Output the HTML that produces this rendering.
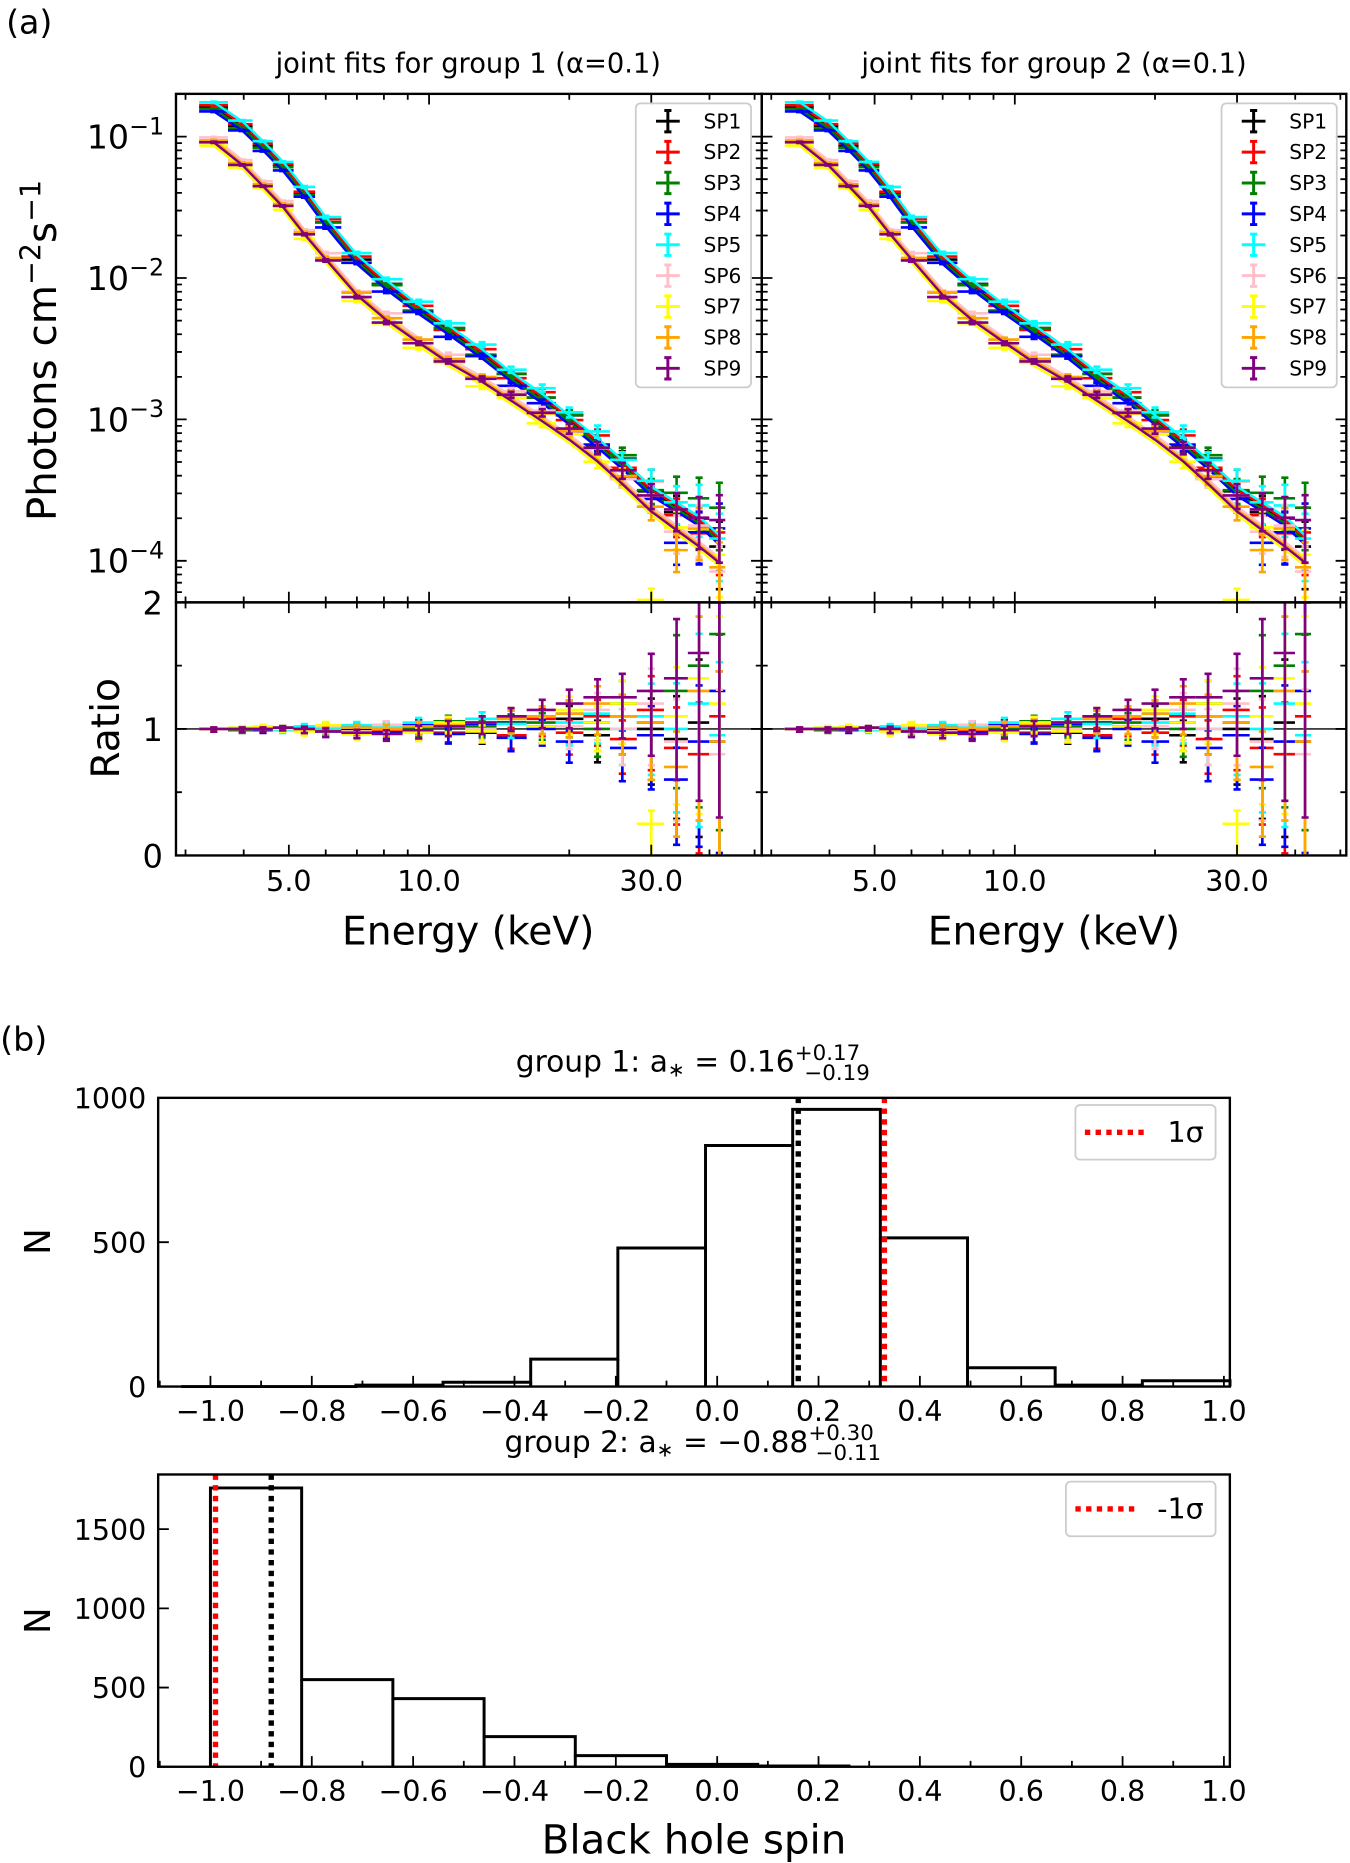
<!DOCTYPE html>
<html><head><meta charset="utf-8"><style>
html,body{margin:0;padding:0;background:#fff;}
svg{display:block;font-family:"DejaVu Sans","Liberation Sans",sans-serif;}
</style></head><body>
<svg id="fig" width="1350" height="1863" viewBox="0 0 1136 1568" xmlns="http://www.w3.org/2000/svg">
<defs>
<clipPath id="clipL1"><rect x="148" y="79" width="493" height="428"/></clipPath>
<clipPath id="clipL2"><rect x="148" y="507" width="493" height="213"/></clipPath>
<clipPath id="clipR1"><rect x="641" y="79" width="492" height="428"/></clipPath>
<clipPath id="clipR2"><rect x="641" y="507" width="492" height="213"/></clipPath>
</defs>
<text x="5" y="28" font-size="28">(a)</text>
<text x="0" y="884" font-size="28">(b)</text>
<text x="394" y="61" font-size="23" text-anchor="middle">joint fits for group 1 (α=0.1)</text>
<text x="887" y="61" font-size="23" text-anchor="middle">joint fits for group 2 (α=0.1)</text>
<text transform="translate(47,295) rotate(-90)" font-size="34" text-anchor="middle">Photons cm<tspan dy="-13" font-size="24">−2</tspan><tspan dy="13">s</tspan><tspan dy="-13" font-size="24">−1</tspan></text>
<text transform="translate(100,613) rotate(-90)" font-size="33" text-anchor="middle">Ratio</text>
<text x="394" y="795" font-size="33" text-anchor="middle">Energy (keV)</text>
<text x="887" y="795" font-size="33" text-anchor="middle">Energy (keV)</text>
<text x="583" y="902" font-size="25" text-anchor="middle">group 1: a<tspan font-size="17" dy="4">∗</tspan><tspan dy="-4"> = 0.16</tspan><tspan font-size="18" dy="-10">+0.17</tspan><tspan font-size="18" dx="-47" dy="17">−0.19</tspan></text>
<text x="583" y="1222" font-size="25" text-anchor="middle">group 2: a<tspan font-size="17" dy="4">∗</tspan><tspan dy="-4"> = −0.88</tspan><tspan font-size="18" dy="-10">+0.30</tspan><tspan font-size="18" dx="-49" dy="17">−0.11</tspan></text>
<text transform="translate(42,1045) rotate(-90)" font-size="30" text-anchor="middle">N</text>
<text transform="translate(42,1364) rotate(-90)" font-size="30" text-anchor="middle">N</text>
<text x="584" y="1560" font-size="34" text-anchor="middle">Black hole spin</text>
</svg>
<script>
// ---------- spectral data ----------
const energies = [3.45,3.97,4.4,4.85,5.4,6.0,7.0,8.1,9.5,11,13,15,17.5,20,23,26,30,34,38,42];
const brightModel = [0.162,0.119,0.086,0.062,0.040,0.025,0.0135,0.0089,0.0060,0.0043,0.0029,0.0020,0.0014,0.00099,0.00068,0.00048,0.00031,0.00024,0.00019,0.00014];
const faintModel = [0.094,0.065,0.046,0.033,0.021,0.014,0.0078,0.0052,0.0036,0.0026,0.0019,0.0014,0.00100,0.00074,0.00052,0.00036,0.00023,0.00017,0.00013,0.00010];
const seriesNames = ['SP1','SP2','SP3','SP4','SP5','SP6','SP7','SP8','SP9'];
const seriesColors = ['#000000','#ff0000','#008000','#0000ff','#00ffff','#ffc0cb','#ffff00','#ffa500','#800080'];
const seriesGroup = ['b','b','b','b','b','f','f','f','f'];
const seriesScale = [1.0,1.03,0.97,0.93,1.08,1.05,0.92,1.0,0.97];
const relErr = [0.01,0.01,0.01,0.01,0.015,0.02,0.02,0.025,0.03,0.035,0.04,0.05,0.06,0.08,0.1,0.13,0.2,0.3,0.4,0.5];
const ratios = [
 [1,1,1,1.01,1,0.99,1,1.02,0.98,1.03,0.97,1.05,1.02,1.08,0.95,1.1,1.0,0.92,1.05,0.9],
 [1,1,1.01,1,0.99,1.01,1.02,0.98,1.03,0.97,1.05,0.95,1.08,0.97,1.1,0.92,1.15,0.85,0.8,1.1],
 [1,0.99,1,1.01,1,1.02,0.98,1.03,1.01,1.06,1.02,1.08,1.05,1.12,1.0,1.2,1.05,1.3,1.5,1.75],
 [1,1,0.99,1,1.01,0.98,1.02,0.97,1.03,0.96,1.04,0.93,1.0,0.9,1.05,0.85,0.95,0.6,0.9,1.3],
 [1,1.01,1,0.99,1.02,1,1.03,1.02,1.05,1.03,1.08,1.04,1.1,1.05,1.12,1.0,1.1,1.0,1.2,0.95],
 [1,1,1,1.01,0.99,1.02,0.98,1.03,0.97,1.05,1.0,1.08,1.1,1.02,1.15,1.0,1.2,0.9,1.3,0.8],
 [1,1.01,1.02,1,0.98,1.03,0.96,1.0,0.97,1.05,0.98,1.1,1.02,1.15,1.05,1.2,0.25,1.1,1.4,1.2],
 [1,1,1,1.01,1,0.99,1.01,1.0,1.02,1.03,1.05,1.08,1.1,1.12,1.2,1.1,1.05,0.7,1.3,0.9],
 [1,1,1,1.01,1,0.98,0.97,0.96,0.99,1.02,1.05,1.1,1.15,1.2,1.25,1.25,1.3,1.4,1.6,2.0]
];
const energyTickLabels = ['5.0','10.0','30.0'];
const energyTickValues = [5,10,30];
const fluxDecades = [-1,-2,-3,-4];
const ratioTicks = [0,1,2];
// ---------- histogram data ----------
const hist1Edges = [-1.058,-0.886,-0.713,-0.541,-0.368,-0.196,-0.023,0.149,0.322,0.494,0.667,0.839,1.012];
const hist1Counts = [0,0,5,15,95,480,835,960,515,65,5,20];
const hist1Best = 0.16, hist1Sigma = 0.33;
const hist2Edges = [-1.0,-0.82,-0.64,-0.46,-0.28,-0.10,0.08,0.26];
const hist2Counts = [1760,550,430,190,70,15,5];
const hist2Best = -0.88, hist2Sigma = -0.99;
const spinTicks = [-1.0,-0.8,-0.6,-0.4,-0.2,0.0,0.2,0.4,0.6,0.8,1.0];
const hist1YTicks = [0,500,1000];
const hist2YTicks = [0,500,1000,1500];

const NS='http://www.w3.org/2000/svg';
const svg=document.getElementById('fig');
function mk(tag,a,parent){const e=document.createElementNS(NS,tag);for(const k in a)e.setAttribute(k,a[k]);(parent||svg).appendChild(e);return e;}

function panel(x0,x1,clipTop,clipBot,pname,showYLabels){
  const xE=e=>361+(x0-148)+(Math.log10(e)-1)*392;
  const yF=f=>115+(-1-Math.log10(f))*119;
  const yR=r=>720-r*106.5;
  const gTop=mk('g',{'clip-path':'url(#'+clipTop+')'});
  
  
  const gBot=mk('g',{'clip-path':'url(#'+clipBot+')'});
  
  
  const l1=mk('line',{x1:x0,x2:x1,y1:yR(1),y2:yR(1),stroke:'#000','stroke-width':1.2},gBot);
  
  
  for(let s=0;s<9;s++){
    const model=seriesGroup[s]==='b'?brightModel:faintModel;
    const c=seriesColors[s];
    const gs=mk('g',{stroke:c,'stroke-width':2.2},gTop);
    
    
    const gr=mk('g',{stroke:c,'stroke-width':2.2},gBot);
    
    
    let pts=[];
    for(let i=0;i<energies.length;i++){
      const m=model[i]*seriesScale[s];
      pts.push(xE(energies[i]).toFixed(1)+','+yF(m).toFixed(1));
      const d=m*ratios[s][i];
      const lo=i>0?Math.sqrt(energies[i]*energies[i-1]):energies[0]*0.93;
      const hi=i<energies.length-1?Math.sqrt(energies[i]*energies[i+1]):energies[i]*1.03;
      const xa=xE(lo),xb=xE(hi),xc=xE(energies[i]);
      const dl=Math.max(d*(1-relErr[i]),1e-6),du=d*(1+relErr[i]);
      const e1=mk('path',{d:`M${xa},${yF(d)}H${xb}M${xc},${yF(dl)}V${yF(du)}M${xc-3},${yF(dl)}h6M${xc-3},${yF(du)}h6`,fill:'none'},gs);
      
      
      const r=ratios[s][i],rl=r-r*relErr[i]*1.2-relErr[i],ru=r+r*relErr[i]*0.9+relErr[i]*0.3;
      const e2=mk('path',{d:`M${xa},${yR(r)}H${xb}M${xc},${yR(rl)}V${yR(ru)}M${xc-3},${yR(rl)}h6M${xc-3},${yR(ru)}h6`,fill:'none'},gr);
      
      
    }
    const pl=mk('polyline',{points:pts.join(' '),fill:'none',stroke:c,'stroke-width':2},gTop);
    
    
  }
  const f1=mk('rect',{x:x0,y:79,width:x1-x0,height:428,fill:'none',stroke:'#000','stroke-width':2});
  
  
  const f2=mk('rect',{x:x0,y:507,width:x1-x0,height:213,fill:'none',stroke:'#000','stroke-width':2});
  
  
  const minorE=[3,4,6,7,8,9,20,40,50];
  const tg=mk('g',{stroke:'#000','stroke-width':1.5});
  
  
  let d='';
  energyTickValues.forEach(v=>{const x=xE(v);d+=`M${x},720v-9M${x},507v-9M${x},507v9M${x},79v9`;});
  minorE.forEach(v=>{const x=xE(v);if(x>x0&&x<x1)d+=`M${x},720v-5M${x},507v-5M${x},507v5M${x},79v5`;});
  for(let k=-1;k>=-5;k--){for(let m=1;m<10;m++){const y=yF(m*Math.pow(10,k));if(y<79||y>507)continue;const L=m===1?9:5;d+=`M${x0},${y}h${L}M${x1},${y}h${-L}`;}}
  ratioTicks.forEach(r=>{const y=yR(r);d+=`M${x0},${y}h9M${x1},${y}h-9`;});
  [0.5,1.5].forEach(r=>{const y=yR(r);d+=`M${x0},${y}h5M${x1},${y}h-5`;});
  mk('path',{d:d,fill:'none'},tg);
  energyTickLabels.forEach((t,i)=>{const tx=mk('text',{x:xE(energyTickValues[i]),y:750,'font-size':24,'text-anchor':'middle'});tx.textContent=t;
    
    });
  if(showYLabels){
    fluxDecades.forEach(k=>{const tx=mk('text',{x:138,y:yF(Math.pow(10,k))+10,'font-size':28,'text-anchor':'end'});
      tx.innerHTML='10<tspan dy="-12" font-size="20">−'+(-k)+'</tspan>';
      
      });
    ratioTicks.forEach(r=>{const tx=mk('text',{x:137,y:yR(r)+10,'font-size':27,'text-anchor':'end'});tx.textContent=r;
      
      });
  }
  const lx=x0+387;
  const lg=mk('g',{});
  
  
  mk('rect',{x:lx,y:87,width:97,height:239,rx:4,fill:'#fff','fill-opacity':0.8,stroke:'#ccc','stroke-width':1.5},lg);
  seriesNames.forEach((n,i)=>{
    const y=102+i*26;const cx=lx+27;
    const en=mk('g',{},lg);
    
    
    mk('path',{d:`M${cx-10},${y}h20M${cx},${y-9}v18M${cx-3},${y-9}h6M${cx-3},${y+9}h6`,stroke:seriesColors[i],'stroke-width':2.5,fill:'none'},en);
    const t=mk('text',{x:lx+57,y:y+6,'font-size':17},en);t.textContent=n;
  });
}
panel(148,641,'clipL1','clipL2','group1',true);
panel(641,1133,'clipR1','clipR2','group2',false);

function hist(top,bot,maxY,edges,counts,best,sig,yticks,legendTxt,pname,lgx){
  const x0=133,x1=1035;
  const xS=v=>177+(v+1)*426.5;
  const yS=n=>bot-n*(bot-top)/maxY;
  const g=mk('g',{});
  
  
  let d=`M${xS(edges[0])},${bot}`;
  counts.forEach((c,i)=>{d+=`V${yS(c)}H${xS(edges[i+1])}`;});
  d+=`V${bot}`;
  const st=mk('path',{d:d,fill:'none',stroke:'#000','stroke-width':2.5},g);
  
  
  counts.forEach((c,i)=>{if(i>0){const l=mk('line',{x1:xS(edges[i]),x2:xS(edges[i]),y1:bot,y2:yS(Math.min(c,counts[i-1])),stroke:'#000','stroke-width':2.5},g);
    
    }});
  const bl=mk('line',{x1:xS(best),x2:xS(best),y1:top,y2:bot,stroke:'#000','stroke-width':4.5,'stroke-dasharray':'4.5 4.5'},g);
  
  
  const sl=mk('line',{x1:xS(sig),x2:xS(sig),y1:top,y2:bot,stroke:'#ff0000','stroke-width':4.5,'stroke-dasharray':'4.5 4.5'},g);
  
  
  const fr=mk('rect',{x:x0,y:top,width:x1-x0,height:bot-top,fill:'none',stroke:'#000','stroke-width':2},g);
  
  
  let td='';
  spinTicks.forEach(v=>{td+=`M${xS(v)},${bot}v-9`;if(v<0.95)td+=`M${xS(v+0.1)},${bot}v-5`;});
  td+=`M${xS(-1.1)+0},${bot}v-5`;
  yticks.forEach(v=>{td+=`M${x0},${yS(v)}h9`;});
  const tk=mk('path',{d:td,stroke:'#000','stroke-width':1.5,fill:'none'},g);
  
  
  spinTicks.forEach(v=>{const t=mk('text',{x:xS(v),y:bot+29,'font-size':24,'text-anchor':'middle'},g);t.textContent=(v<0?'−':'')+Math.abs(v).toFixed(1);
    
    });
  yticks.forEach(v=>{const t=mk('text',{x:123,y:yS(v)+9,'font-size':24,'text-anchor':'end'},g);t.textContent=v;
    
    });
  const lg=mk('g',{},g);
  
  
  const ly=top+29;
  mk('rect',{x:lgx,y:top+6,width:1023-lgx,height:46,rx:4,fill:'#fff',stroke:'#ccc','stroke-width':1.5},lg);
  mk('line',{x1:lgx+8,x2:lgx+60,y1:ly,y2:ly,stroke:'#ff0000','stroke-width':4.5,'stroke-dasharray':'4.5 4.5'},lg);
  const lt=mk('text',{x:1013,y:ly+8,'font-size':24,'text-anchor':'end'},lg);lt.textContent=legendTxt;
}
hist(924,1167,1000,hist1Edges,hist1Counts,hist1Best,hist1Sigma,hist1YTicks,'1σ','hist-group1',905);
hist(1241,1487,1845,hist2Edges,hist2Counts,hist2Best,hist2Sigma,hist2YTicks,'-1σ','hist-group2',897);
</script>
</body></html>
